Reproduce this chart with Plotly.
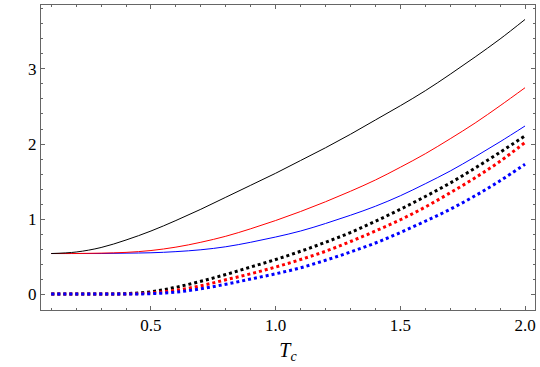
import plotly.graph_objects as go

# valores (Tc cada 0.1)
tc = [0.1, 0.2, 0.3, 0.4, 0.5, 0.6, 0.7, 0.8, 0.9, 1.0,
      1.1, 1.2, 1.3, 1.4, 1.5, 1.6, 1.7, 1.8, 1.9, 2.0]

negro_solido = [0.54, 0.56, 0.62, 0.72, 0.84, 0.98, 1.13, 1.29, 1.45, 1.61,
                1.78, 1.95, 2.13, 2.32, 2.51, 2.71, 2.93, 3.16, 3.40, 3.66]
rojo_solido = [0.54, 0.54, 0.545, 0.555, 0.58, 0.625, 0.69, 0.77, 0.87, 0.98,
               1.10, 1.23, 1.37, 1.52, 1.69, 1.87, 2.07, 2.28, 2.51, 2.75]
azul_solido = [0.54, 0.54, 0.54, 0.545, 0.55, 0.565, 0.59, 0.63, 0.69, 0.76,
               0.84, 0.94, 1.05, 1.17, 1.31, 1.47, 1.64, 1.83, 2.03, 2.24]

negro_punteado = [0.0, 0.0, 0.0, 0.005, 0.03, 0.09, 0.17, 0.26, 0.36, 0.46,
                  0.57, 0.69, 0.82, 0.97, 1.13, 1.30, 1.48, 1.68, 1.89, 2.11]
rojo_punteado = [0.0, 0.0, 0.0, 0.0, 0.015, 0.05, 0.11, 0.19, 0.27, 0.36,
                 0.46, 0.57, 0.70, 0.84, 0.99, 1.16, 1.35, 1.55, 1.77, 2.02]
azul_punteado = [0.0, 0.0, 0.0, 0.0, 0.005, 0.025, 0.07, 0.13, 0.20, 0.27,
                 0.35, 0.45, 0.56, 0.68, 0.82, 0.97, 1.13, 1.31, 1.51, 1.73]

x_ticks = [0.5, 1.0, 1.5, 2.0]
x_labels = ['0.5', '1.0', '1.5', '2.0']
y_ticks = [0, 1, 2, 3]
y_labels = ['0', '1', '2', '3']

fig = go.Figure()

series = [
    (negro_punteado, 'black', 'punteado'),
    (rojo_punteado, 'red', 'punteado'),
    (azul_punteado, 'blue', 'punteado'),
    (azul_solido, 'blue', 'solido'),
    (rojo_solido, 'red', 'solido'),
    (negro_solido, 'black', 'solido'),
]

for valores, color, estilo in series:
    if estilo == 'solido':
        linea = dict(color=color, width=1, shape='spline', smoothing=1)
    else:
        linea = dict(color=color, width=3, dash='3px,3px', shape='spline', smoothing=1)
    fig.add_scatter(x=tc, y=valores, mode='lines', line=linea, showlegend=False)

eje = dict(
    showgrid=False, zeroline=False, showline=True, linecolor='#666666', linewidth=1,
    mirror='ticks', ticks='inside', ticklen=4, tickwidth=1, tickcolor='#666666',
    automargin=False,
    tickfont=dict(family='Liberation Serif', size=17, color='black'),
)

fig.update_layout(
    width=540, height=367,
    margin=dict(l=41, r=5, t=5, b=57),
    plot_bgcolor='white', paper_bgcolor='white',
    xaxis=dict(eje, range=[0.059, 2.04], tickvals=x_ticks, ticktext=x_labels,
               minor=dict(dtick=0.1, tick0=0, ticks='inside', ticklen=2, tickcolor='#666666'),
               title=dict(text='<i>T</i><sub><i>c</i></sub>', standoff=8,
                          font=dict(family='Liberation Serif', size=20, color='black'))),
    yaxis=dict(eje, range=[-0.213, 3.853], tickvals=y_ticks, ticktext=y_labels,
               minor=dict(dtick=0.2, tick0=0, ticks='inside', ticklen=2, tickcolor='#666666')),
)

# quitar el margen del body para que la figura quede en la esquina
fig.write_html("out.html", config={'displayModeBar': False},
               post_script="document.body.style.margin='0';")
